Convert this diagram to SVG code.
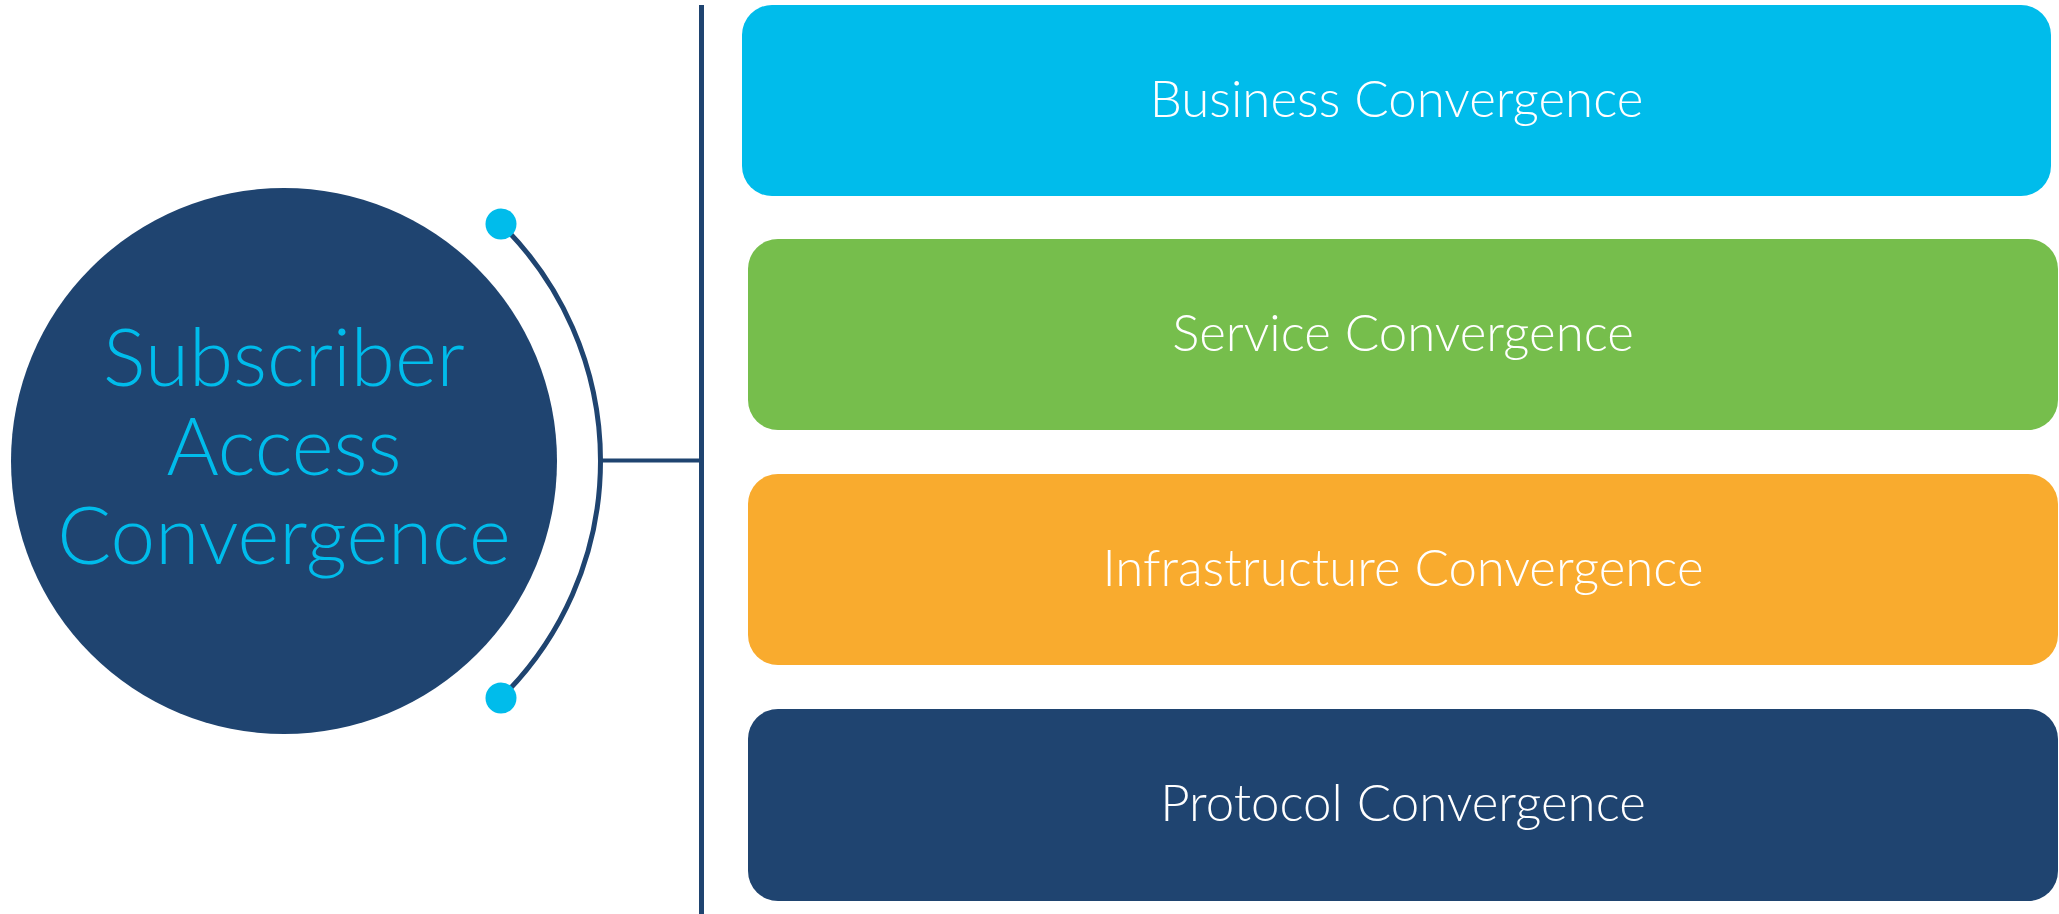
<svg xmlns="http://www.w3.org/2000/svg" width="2059" height="914" viewBox="0 0 2059 914">
  <style>
    .lbl { font-family: "Lato", "Liberation Sans", Arial, sans-serif; font-weight: 300; font-size: 51px; fill: #ffffff; text-anchor: middle; }
    .hub { font-family: "Lato", "Liberation Sans", Arial, sans-serif; font-weight: 300; font-size: 80px; fill: #00BCEB; text-anchor: middle; }
    .wire { stroke: #1F4470; fill: none; }
    .dot { fill: #00BCEB; }
  </style>
  <rect width="2059" height="914" fill="#ffffff"/>

  <!-- connectors -->
  <g id="connectors">
    <line class="wire" x1="701.5" y1="5" x2="701.5" y2="914" stroke-width="5"/>
    <line class="wire" x1="600" y1="460.5" x2="701.5" y2="460.5" stroke-width="4"/>
    <path class="wire" d="M 501 224 A 332 332 0 0 1 501 698" stroke-width="5"/>
    <circle class="dot" cx="501" cy="224" r="15.5"/>
    <circle class="dot" cx="501" cy="698" r="15.5"/>
  </g>

  <!-- central hub -->
  <g id="hub">
    <circle cx="284" cy="461" r="273" fill="#1F4470"/>
    <text class="hub" x="284" y="386">Subscriber</text>
    <text class="hub" x="284" y="475">Access</text>
    <text class="hub" x="284" y="564">Convergence</text>
  </g>

  <!-- convergence layers -->
  <g id="business">
    <rect x="742" y="5" width="1309" height="191" rx="30" fill="#00BCEB"/>
    <text class="lbl" x="1396.5" y="117">Business Convergence</text>
  </g>
  <g id="service">
    <rect x="748" y="239" width="1310" height="191" rx="30" fill="#76BE4C"/>
    <text class="lbl" x="1403" y="351">Service Convergence</text>
  </g>
  <g id="infrastructure">
    <rect x="748" y="474" width="1310" height="191" rx="30" fill="#F9AB2E"/>
    <text class="lbl" x="1403" y="586">Infrastructure Convergence</text>
  </g>
  <g id="protocol">
    <rect x="748" y="709" width="1310" height="192" rx="30" fill="#1F4470"/>
    <text class="lbl" x="1403" y="821">Protocol Convergence</text>
  </g>
</svg>
